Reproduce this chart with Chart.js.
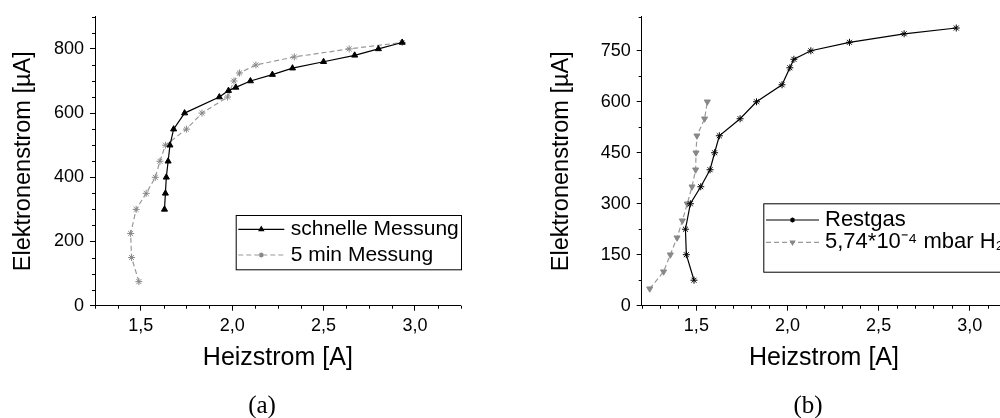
<!DOCTYPE html>
<html>
<head>
<meta charset="utf-8">
<script src="https://cdn.jsdelivr.net/npm/chart.js@4.4.1/dist/chart.umd.min.js"></script>
<style>
  html, body { margin: 0; padding: 0; background: #fff; overflow: hidden; }
  body { width: 1000px; height: 418px; position: relative; }
  .box { position: absolute; top: 0; height: 418px; }
  #boxA { left: 0; width: 500px; }
  #boxB { left: 500px; width: 540px; }
  .cap { position: absolute; top: 390px; font-family: 'Liberation Serif', serif; font-size: 25px; line-height: 30px; transform: translateX(-50%); }
</style>
</head>
<body>
<div class="box" id="boxA"><canvas id="chartA"></canvas></div>
<div class="box" id="boxB"><canvas id="chartB"></canvas></div>
<div class="cap" style="left:262px">(a)</div>
<div class="cap" style="left:808px">(b)</div>
<script>
// (a) Heizstrom / Elektronenstrom
const aSchnelleX = [1.63, 1.635, 1.64, 1.65, 1.66, 1.68, 1.74, 1.93, 1.98, 2.02, 2.10, 2.22, 2.33, 2.50, 2.67, 2.80, 2.93];
const aSchnelleY = [300, 350, 400, 450, 500, 550, 600, 650, 670, 680, 700, 720, 740, 760, 780, 800, 820];
const a5minX = [1.49, 1.45, 1.445, 1.475, 1.53, 1.58, 1.605, 1.635, 1.75, 1.835, 1.975, 2.01, 2.04, 2.13, 2.34, 2.64, 2.93];
const a5minY = [75, 150, 225, 300, 350, 400, 450, 500, 550, 600, 650, 700, 725, 750, 775, 800, 820];

// (b) Restgas / H2
const bRestX = [1.487, 1.445, 1.44, 1.467, 1.524, 1.575, 1.60, 1.626, 1.74, 1.83, 1.97, 2.013, 2.035, 2.128, 2.34, 2.64, 2.926];
const bRestY = [75, 150, 225, 300, 350, 400, 450, 500, 550, 600, 650, 700, 725, 750, 775, 800, 817];
const bH2X = [1.244, 1.32, 1.357, 1.394, 1.423, 1.45, 1.476, 1.496, 1.498, 1.503, 1.545, 1.56];
const bH2Y = [50, 100, 150, 200, 250, 300, 350, 400, 450, 500, 550, 600];

// tick labels (major ticks)
const xTickLabels = [1.5, 2.0, 2.5, 3.0];
const aYTickLabels = [0, 200, 400, 600, 800];
const bYTickLabels = [0, 150, 300, 450, 600, 750];

const FONT = "'Liberation Sans', Arial, sans-serif";

function isIn(v, arr) {
  return arr.some(m => Math.abs(m - v) < 1e-6);
}

function pts(xs, ys) {
  return xs.map((x, i) => ({ x: x, y: ys[i] }));
}

// small outward minor ticks
const minorTicks = {
  id: 'minorTicks',
  afterDraw(chart, args, opts) {
    const c = chart.ctx, a = chart.chartArea;
    const sx = chart.scales.x, sy = chart.scales.y;
    c.save();
    c.strokeStyle = '#000';
    c.lineWidth = 1;
    c.beginPath();
    sx.ticks.forEach(t => {
      if (isIn(t.value, opts.xMajor)) return;
      const px = Math.round(sx.getPixelForValue(t.value)) + 0.5;
      c.moveTo(px, a.bottom);
      c.lineTo(px, a.bottom + 3);
    });
    sy.ticks.forEach(t => {
      if (isIn(t.value, opts.yMajor)) return;
      const py = Math.round(sy.getPixelForValue(t.value)) + 0.5;
      c.moveTo(a.left, py);
      c.lineTo(a.left - 3, py);
    });
    c.stroke();
    c.restore();
  }
};

// framed legend inside the plot
const legendBox = {
  id: 'legendBox',
  afterDraw(chart, args, o) {
    const c = chart.ctx;
    c.save();
    c.strokeStyle = '#000';
    c.lineWidth = 1;
    c.strokeRect(o.x + 0.5, o.y + 0.5, o.w, o.h);
    chart.data.datasets.forEach((ds, i) => {
      const y = o.y + o.rows[i];
      c.strokeStyle = ds.borderColor;
      c.lineWidth = ds.borderWidth;
      c.setLineDash(ds.borderDash || []);
      c.beginPath();
      c.moveTo(o.x + o.lineFrom, y);
      c.lineTo(o.x + o.lineTo, y);
      c.stroke();
      c.setLineDash([]);
      c.fillStyle = ds.pointBackgroundColor;
      c.strokeStyle = ds.pointBorderColor;
      Chart.helpers.drawPoint(c, {
        pointStyle: ds.pointStyle,
        rotation: ds.pointRotation || 0,
        radius: 2.5,
        borderWidth: 1
      }, o.x + (o.lineFrom + o.lineTo) / 2, y);
      c.fillStyle = '#000';
      c.font = o.fontSize + 'px ' + FONT;
      c.textBaseline = 'middle';
      c.fillText(ds.label, o.x + o.textX, y);
    });
    c.restore();
  }
};

function makeChart(id, datasets, cfg) {
  return new Chart(document.getElementById(id), {
    type: 'scatter',
    data: { datasets: datasets },
    plugins: [minorTicks, legendBox],
    options: {
      responsive: true,
      maintainAspectRatio: false,
      animation: false,
      layout: { padding: cfg.padding },
      plugins: {
        legend: { display: false },
        tooltip: { enabled: false },
        minorTicks: { xMajor: xTickLabels, yMajor: cfg.yLabels },
        legendBox: cfg.legend
      },
      scales: {
        x: {
          type: 'linear',
          min: cfg.xMin, max: cfg.xMax,
          afterFit: s => { s.height = 67.3; },
          border: { display: true, color: '#000', width: 1 },
          grid: {
            drawOnChartArea: false, drawTicks: true, tickLength: 5,
            tickColor: ctx => (ctx.tick && isIn(ctx.tick.value, xTickLabels)) ? '#000' : 'rgba(0,0,0,0)'
          },
          ticks: {
            stepSize: cfg.xStep, autoSkip: false, maxTicksLimit: 1000, maxRotation: 0,
            padding: 5, color: '#000', font: { family: FONT, size: 18 },
            callback: v => isIn(v, xTickLabels) ? v.toFixed(1).replace('.', ',') : ''
          },
          title: { display: true, text: 'Heizstrom [A]', color: '#000', padding: 0, font: { family: FONT, size: 25 } }
        },
        y: {
          type: 'linear',
          min: 0, max: cfg.yMax,
          afterFit: s => { s.width = cfg.yWidth; },
          border: { display: true, color: '#000', width: 1 },
          grid: {
            drawOnChartArea: false, drawTicks: true, tickLength: 5,
            tickColor: ctx => (ctx.tick && isIn(ctx.tick.value, cfg.yLabels)) ? '#000' : 'rgba(0,0,0,0)'
          },
          ticks: {
            stepSize: cfg.yStep, autoSkip: false, maxTicksLimit: 1000,
            padding: 6, color: '#000', font: { family: FONT, size: 18 },
            callback: v => isIn(v, cfg.yLabels) ? String(v) : ''
          },
          title: { display: true, text: 'Elektronenstrom [\u00b5A]', color: '#000', padding: { top: 9, bottom: 0 }, font: { family: FONT, size: 23.5 } }
        }
      }
    }
  });
}

makeChart('chartA', [
  {
    label: 'schnelle Messung',
    data: pts(aSchnelleX, aSchnelleY),
    showLine: true,
    borderColor: '#000', borderWidth: 1.2,
    pointStyle: 'triangle', pointRadius: 3.5,
    pointBackgroundColor: '#000', pointBorderColor: '#000', pointBorderWidth: 1
  },
  {
    label: '5 min Messung',
    data: pts(a5minX, a5minY),
    showLine: true,
    borderColor: '#999', borderWidth: 1.2, borderDash: [5, 3],
    pointStyle: 'star', pointRadius: 3.5,
    pointBackgroundColor: '#888', pointBorderColor: '#888', pointBorderWidth: 1
  }
], {
  padding: { left: 0, right: 39.3, top: 10.7, bottom: 45 },
  yWidth: 95,
  xMin: 1.25, xMax: 3.25, xStep: 0.125,
  yMax: 900, yStep: 50, yLabels: aYTickLabels,
  legend: { x: 235.7, y: 215, w: 225.3, h: 54.3, rows: [14.3, 40], lineFrom: 2.6, lineTo: 48.6, textX: 55, fontSize: 21 }
});

makeChart('chartB', [
  {
    label: 'Restgas',
    data: pts(bRestX, bRestY),
    showLine: true,
    borderColor: '#000', borderWidth: 1.2,
    pointStyle: 'star', pointRadius: 3.5,
    pointBackgroundColor: '#000', pointBorderColor: '#000', pointBorderWidth: 1
  },
  {
    label: '5,74*10\u207b\u2074 mbar H\u2082',
    data: pts(bH2X, bH2Y),
    showLine: true,
    borderColor: '#999', borderWidth: 1.2, borderDash: [5, 3],
    pointStyle: 'triangle', pointRotation: 180, pointRadius: 3.5,
    pointBackgroundColor: '#888', pointBorderColor: '#888', pointBorderWidth: 1
  }
], {
  padding: { left: 38.6, right: 33.8, top: 10.7, bottom: 45 },
  yWidth: 103.1,
  xMin: 1.2, xMax: 3.2, xStep: 0.1,
  yMax: 850, yStep: 75, yLabels: bYTickLabels,
  legend: { x: 263.3, y: 203.3, w: 300, h: 68.4, rows: [16.7, 39], lineFrom: 2.7, lineTo: 55.7, textX: 61.7, fontSize: 22 }
});
</script>
</body>
</html>
